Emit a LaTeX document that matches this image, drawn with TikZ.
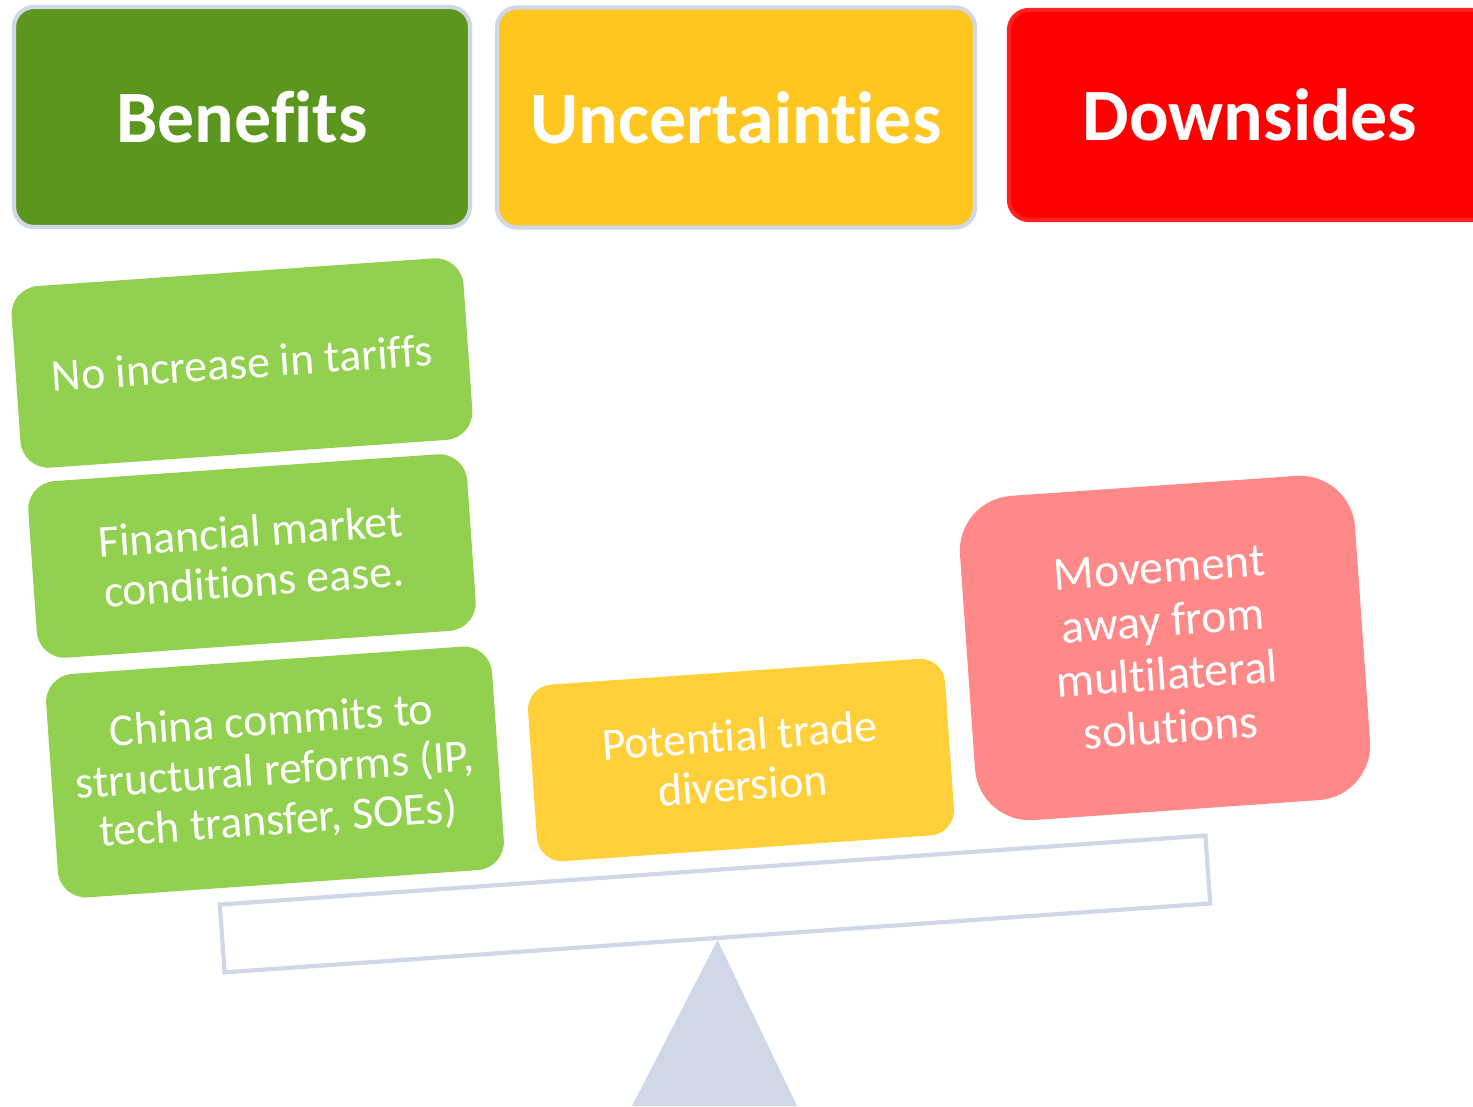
\documentclass[tikz,border=0pt]{standalone}
\usepackage{fontspec}
\setmainfont{Carlito}[RawFeature={-liga;-dlig;-clig}]
\usepackage{xcolor}
\usepackage{tikz}
\usetikzlibrary{positioning}
\tikzset{font={\fontsize{13pt}{14.2pt}\selectfont}}
\definecolor{bengreen}{RGB}{91,151,30}
\definecolor{uncyellow}{RGB}{254,198,30}
\definecolor{downred}{RGB}{255,0,0}
\definecolor{lightgreen}{RGB}{146,208,80}
\definecolor{gold}{RGB}{255,208,58}
\definecolor{pink}{RGB}{255,137,137}
\definecolor{frame}{RGB}{208,216,232}

\begin{document}
\begin{tikzpicture}[
head/.style={draw=frame,line width=1.2pt,rounded corners=0.2cm,text=white,
  font={\fontsize{21pt}{25pt}\selectfont\bfseries},minimum height=2.2cm},
item/.style={fill=lightgreen,rounded corners=0.28cm,text=white,align=center,rotate=4,inner sep=0pt}
]
\fill[white] (0,0) rectangle (14.73,11.06);
\clip (0,0) rectangle (14.73,11.06);

\node[head,fill=bengreen,minimum width=4.56cm] (ben) at (2.42,9.89) {Benefits};
\node[head,fill=uncyellow,minimum width=4.78cm] (unc) at (7.36,9.885) {Uncertainties};
\node[head,fill=downred,draw={rgb,255:red,255;green,32;blue,32},minimum width=4.82cm,minimum height=2.1cm] (down) at (12.50,9.91) {Downsides};

\node[item,minimum width=4.53cm,minimum height=1.82cm] (b1) at (2.42,7.43) {No increase in tariffs};
\node[item,minimum width=4.40cm,minimum height=1.77cm] (b2) at (2.52,5.50) {Financial market\\conditions ease.};
\node[item,minimum width=4.47cm,minimum height=2.24cm] (b3) at (2.75,3.34) {China commits to\\structural reforms (IP,\\tech transfer, SOEs)};

\node[item,fill=gold,rounded corners=0.25cm,minimum width=4.18cm,minimum height=1.77cm] (u1) at (7.41,3.46) {Potential trade\\diversion};

\node[item,fill=pink,rounded corners=0.55cm,minimum width=3.96cm,minimum height=3.25cm,
  font={\fontsize{13.5pt}{15.2pt}\selectfont}] (d1) at (11.65,4.58) {Movement\\away from\\multilateral\\solutions};

%scale
\node[draw=frame,line width=1.2pt,rotate=4,minimum width=9.88cm,minimum height=0.68cm,inner sep=0pt] (beam) at (7.15,2.02) {};
\fill[frame] (beam.south) -- (6.32,0) -- (7.97,0) -- cycle;

\end{tikzpicture}
\end{document}
